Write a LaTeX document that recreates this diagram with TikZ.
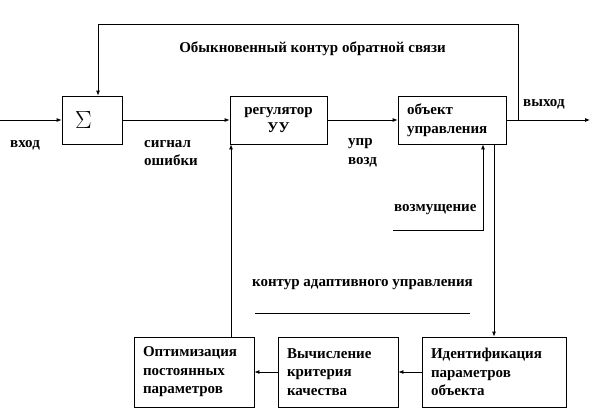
\documentclass[tikz,border=0pt]{standalone}
\usepackage{fontspec}
\setmainfont{Liberation Serif}
\usetikzlibrary{arrows.meta}
\tikzset{
  blk/.style={draw, line width=0.8pt, minimum height=48, font=\lbl},
  lowblk/.style={draw, line width=0.8pt, minimum height=70, inner xsep=9, align=left, font=\lbl},
  arr/.style={line width=0.8pt, -{Latex[length=5pt,width=4pt]}},
  ln/.style={line width=0.8pt},
  txt/.style={font=\lbl, align=left, inner sep=0pt}
}
\newcommand{\lbl}{\bfseries\fontsize{15}{18.5}\selectfont}
\begin{document}
\begin{tikzpicture}[x=1pt, y=-1pt]
\useasboundingbox (0,0) rectangle (602,412);
\node[blk, minimum width=60, text width=34, inner xsep=13, align=left] (sum) at (92,120) {\fontsize{32}{32}\selectfont$\Sigma$};
\node[blk, minimum width=97, align=center] (reg) at (278.5,120) {регулятор\\УУ};
\node[blk, minimum width=108, text width=90, inner xsep=9, align=left] (obj) at (452,120) {объект\\управления};
\node[lowblk, minimum width=120, text width=102] (opt) at (194,372) {Оптимизация\\постоянных\\параметров};
\node[lowblk, minimum width=120, text width=102] (calc) at (338,372) {Вычисление\\критерия\\качества};
\node[lowblk, minimum width=144, text width=126] (id) at (494,372) {Идентификация\\параметров\\объекта};
\coordinate (in) at (0,120);
\coordinate (out) at (590,120);
\coordinate (fb) at (518,120);
\coordinate (fbtop) at (518,24);
\coordinate (fbleft) at (98,24);
\coordinate (d1) at (393,230);
\coordinate (d2) at (483,230);
\coordinate (up) at (231,0);
\draw[arr] (in) -- (sum);
\draw[arr] (sum) -- (reg);
\draw[arr] (reg) -- (obj);
\draw[arr] (obj) -- (out);
\draw[arr] (fb) -- (fbtop) -- (fbleft) -- (fbleft |- sum.north);
\draw[arr] (d1) -- (d2) -- (d2 |- obj.south);
\draw[arr] (id.north |- obj.south) -- (id);
\draw[arr] (id) -- (calc);
\draw[arr] (calc) -- (opt);
\draw[arr] (opt.north -| up) -- (reg.south -| up);
\node[txt, anchor=west] (inlbl) at (10,145) {вход};
\node[txt, anchor=west] (outlbl) at (523,104) {выход};
\node[txt, anchor=west] (errlbl) at (144,153) {сигнал\\ошибки};
\node[txt, anchor=west] (ctrllbl) at (348,153) {упр\\возд};
\node[txt, anchor=west] (distlbl) at (394,210) {возмущение};
\node[txt] (fblbl) at (312.5,49) {Обыкновенный контур обратной связи};
\node[txt] (adlbl) at (362.5,285) {контур адаптивного управления};
\coordinate (ul1) at (255,313);
\coordinate (ul2) at (470,313);
\draw[ln] (ul1) -- (ul2);
\end{tikzpicture}
\end{document}
